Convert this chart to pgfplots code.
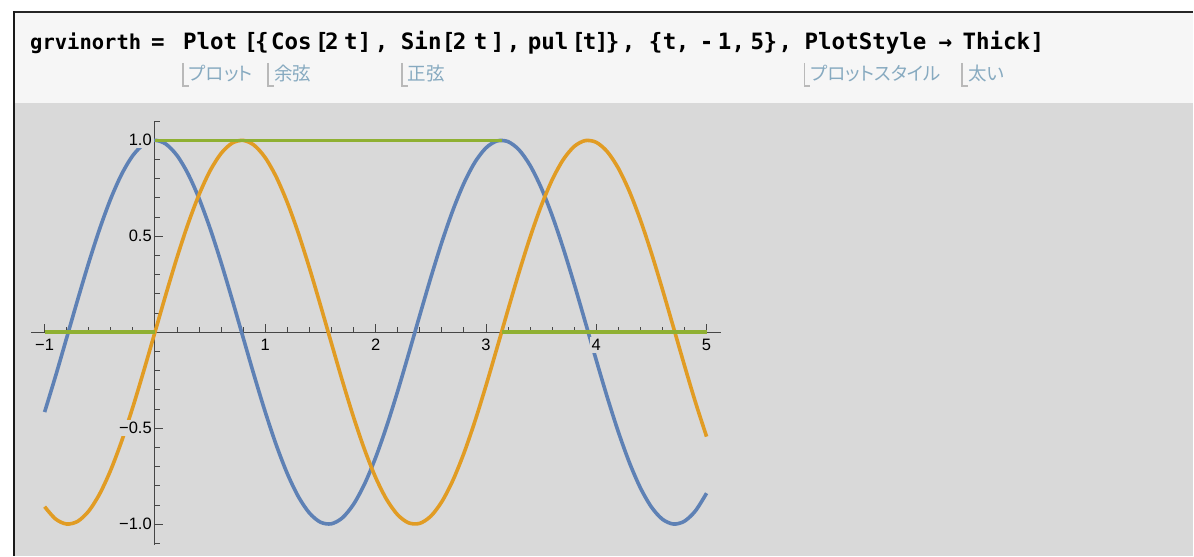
\documentclass[border=0pt]{standalone}
\usepackage{fontspec}
\usepackage{pgfplots}
\usepackage{pgfplotstable}
\pgfplotsset{compat=1.18}
\setmainfont{Liberation Sans}
\newfontfamily\codefont{DejaVu Sans Mono}
\newfontfamily\jpfont[RawFeature=+palt]{Noto Sans CJK JP}

\definecolor{mmablue}{rgb}{0.368417,0.506779,0.709798}
\definecolor{mmaorange}{rgb}{0.880722,0.611041,0.142051}
\definecolor{mmagreen}{rgb}{0.560181,0.691569,0.194885}
\definecolor{panel}{RGB}{217,217,217}
\definecolor{cell}{RGB}{246,246,246}
\definecolor{hint}{RGB}{135,170,192}
\definecolor{hintbar}{RGB}{185,185,185}
\definecolor{axisgray}{RGB}{70,70,70}

% t, Cos[2t], Sin[2t] on -1 <= t <= 5
\pgfplotstableread{
t    c          s
-1.0 -0.416147 -0.909297
-0.9 -0.227202 -0.973848
-0.8 -0.029200 -0.999574
-0.7  0.169967 -0.985450
-0.6  0.362358 -0.932039
-0.5  0.540302 -0.841471
-0.4  0.696707 -0.717356
-0.3  0.825336 -0.564642
-0.2  0.921061 -0.389418
-0.1  0.980067 -0.198669
 0.0  1.000000  0.000000
 0.1  0.980067  0.198669
 0.2  0.921061  0.389418
 0.3  0.825336  0.564642
 0.4  0.696707  0.717356
 0.5  0.540302  0.841471
 0.6  0.362358  0.932039
 0.7  0.169967  0.985450
 0.8 -0.029200  0.999574
 0.9 -0.227202  0.973848
 1.0 -0.416147  0.909297
 1.1 -0.588501  0.808496
 1.2 -0.737394  0.675463
 1.3 -0.856889  0.515501
 1.4 -0.942222  0.334988
 1.5 -0.989992  0.141120
 1.6 -0.998295 -0.058374
 1.7 -0.966798 -0.255541
 1.8 -0.896758 -0.442520
 1.9 -0.790968 -0.611858
 2.0 -0.653644 -0.756802
 2.1 -0.490261 -0.871576
 2.2 -0.307333 -0.951602
 2.3 -0.112153 -0.993691
 2.4  0.087499 -0.996165
 2.5  0.283662 -0.958924
 2.6  0.468517 -0.883455
 2.7  0.634693 -0.772764
 2.8  0.775566 -0.631267
 2.9  0.885520 -0.464602
 3.0  0.960170 -0.279415
 3.1  0.996542 -0.083089
 3.2  0.993185  0.116549
 3.3  0.950233  0.311541
 3.4  0.869397  0.494113
 3.5  0.753902  0.656987
 3.6  0.608351  0.793668
 3.7  0.438547  0.898708
 3.8  0.251260  0.967920
 3.9  0.053955  0.998543
 4.0 -0.145500  0.989358
 4.1 -0.339155  0.940731
 4.2 -0.519289  0.854599
 4.3 -0.678720  0.734397
 4.4 -0.811093  0.584917
 4.5 -0.911130  0.412118
 4.6 -0.974844  0.222890
 4.7 -0.999693  0.024775
 4.8 -0.984688 -0.174327
 4.9 -0.930426 -0.366479
 5.0 -0.839072 -0.544021
}\trig

% tick labels go above the curves, the curves above the axis lines
\pgfplotsset{
  layers/labels over curves/.define layer set={axis background,axis grid,axis ticks,axis lines,pre main,main,axis tick labels,axis descriptions,axis foreground}{
    grid style={/pgfplots/on layer=axis grid},
    tick style={/pgfplots/on layer=axis ticks},
    axis line style={/pgfplots/on layer=axis lines},
    label style={/pgfplots/on layer=axis descriptions},
    ticklabel style={/pgfplots/on layer=axis tick labels},
  },
}

% input-line tokens: \codew puts a token's left edge at x, \codec centres it on x
\tikzset{codetok/.style={inner sep=0pt,text=black,
  font=\codefont\bfseries\fontsize{22.5bp}{26bp}\selectfont}}
\newcommand\codew[2]{\node[codetok,anchor=base west] at (#1bp,506bp) {#2};}
\newcommand\codec[2]{\node[codetok,anchor=base] at (#1bp,506bp) {#2};}
\newcommand\hintlabel[2]{%
  \draw[hintbar,line width=1.8bp] (#1bp,493bp) -- (#1bp,470bp) -- ++(6bp,0bp);
  \node[anchor=base west,inner sep=0pt,text=hint,
  font=\jpfont\fontsize{18.5bp}{22bp}\selectfont] at ([xshift=6bp]#1bp,475bp) {#2};}

\begin{document}
\begin{tikzpicture}
\pgfplotsset{set layers=labels over curves}
\begin{pgfonlayer}{axis background}
  \fill[white] (0bp,0bp) rectangle (1194bp,556bp);
  \fill[cell] (14bp,453bp) rectangle (1194bp,544bp);
  \fill[panel] (14bp,0bp) rectangle (1194bp,453bp);
  \draw[black!85,line width=1.6bp] (13bp,544bp) -- (1194bp,544bp);
  \draw[black!90,line width=2bp] (14bp,0bp) -- (14bp,545bp);
  % input line
  \node[codetok,anchor=base west,font=\codefont\bfseries\fontsize{20.5bp}{24bp}\selectfont]
    at (30bp,506bp) {grvinorth};
  \codec{158}{=}
  \codew{183}{Plot}
  \codec{251}{[}
  \codec{262}{\{}
  \codew{271}{Cos}
  \codec{322}{[}
  \codec{332}{2}
  \codec{351}{t}
  \codec{365}{]}
  \codec{382}{,}
  \codew{401}{Sin}
  \codec{449}{[}
  \codec{460}{2}
  \codec{481}{t}
  \codec{498}{]}
  \codec{514}{,}
  \codew{528}{pul}
  \codec{579}{[}
  \codec{590}{t}
  \codec{602}{]}
  \codec{613}{\}}
  \codec{629}{,}
  \codec{656}{\{}
  \codec{670}{t}
  \codec{683}{,}
  \codec{707}{-}
  \codec{725}{1}
  \codec{739}{,}
  \codec{758}{5}
  \codec{771}{\}}
  \codec{786}{,}
  \codew{805}{PlotStyle}
  \codec{946}{→}
  \codew{963}{Thick}
  \codec{1038}{]}
  % function name hints
  \hintlabel{183}{プロット}
  \hintlabel{268}{余弦}
  \hintlabel{402}{正弦}
  \hintlabel{805}{プロットスタイル}
  \hintlabel{963}{太い}
\end{pgfonlayer}

\begin{axis}[
  set layers=labels over curves,
  at={(31.4bp,11bp)}, anchor=south west,
  scale only axis, width=690bp, height=423.8bp,
  xmin=-1.12, xmax=5.13, ymin=-1.107, ymax=1.10,
  axis lines=middle,
  axis line style={-, axisgray, line width=1bp},
  xtick={-1,1,2,3,4,5}, xticklabels={−1,1,2,3,4,5},
  ytick={-1,-0.5,0.5,1}, yticklabels={−1.0,−0.5,0.5,1.0},
  minor xtick={-1,-0.8,...,5.05},
  minor ytick={-1.1,-1,...,1.15},
  tick align=inside,
  major tick length=8bp, minor tick length=5bp,
  tick style={axisgray, line width=0.8bp},
  xticklabel style={font=\fontsize{16.5bp}{19bp}\selectfont, fill=panel, inner sep=2bp, text=black, anchor=north, yshift=-5bp},
  yticklabel style={font=\fontsize{16.5bp}{19bp}\selectfont, fill=panel, inner sep=2bp, text=black, anchor=east, xshift=-1bp},
  clip=false,
]
\addplot[mmablue, line width=3.6bp, smooth] table[x=t, y=c] {\trig};
\addplot[mmaorange, line width=3.6bp, smooth] table[x=t, y=s] {\trig};
% pul[t]: 1 on [0, Pi], 0 elsewhere
\addplot[mmagreen, line width=3.6bp] coordinates {(-1,0) (0,0)};
\addplot[mmagreen, line width=3.6bp] coordinates {(0,1) (3.14159,1)};
\addplot[mmagreen, line width=3.6bp] coordinates {(3.14159,0) (5,0)};
\end{axis}
\useasboundingbox (0bp,0bp) rectangle (1194bp,556bp);
\end{tikzpicture}
\end{document}
